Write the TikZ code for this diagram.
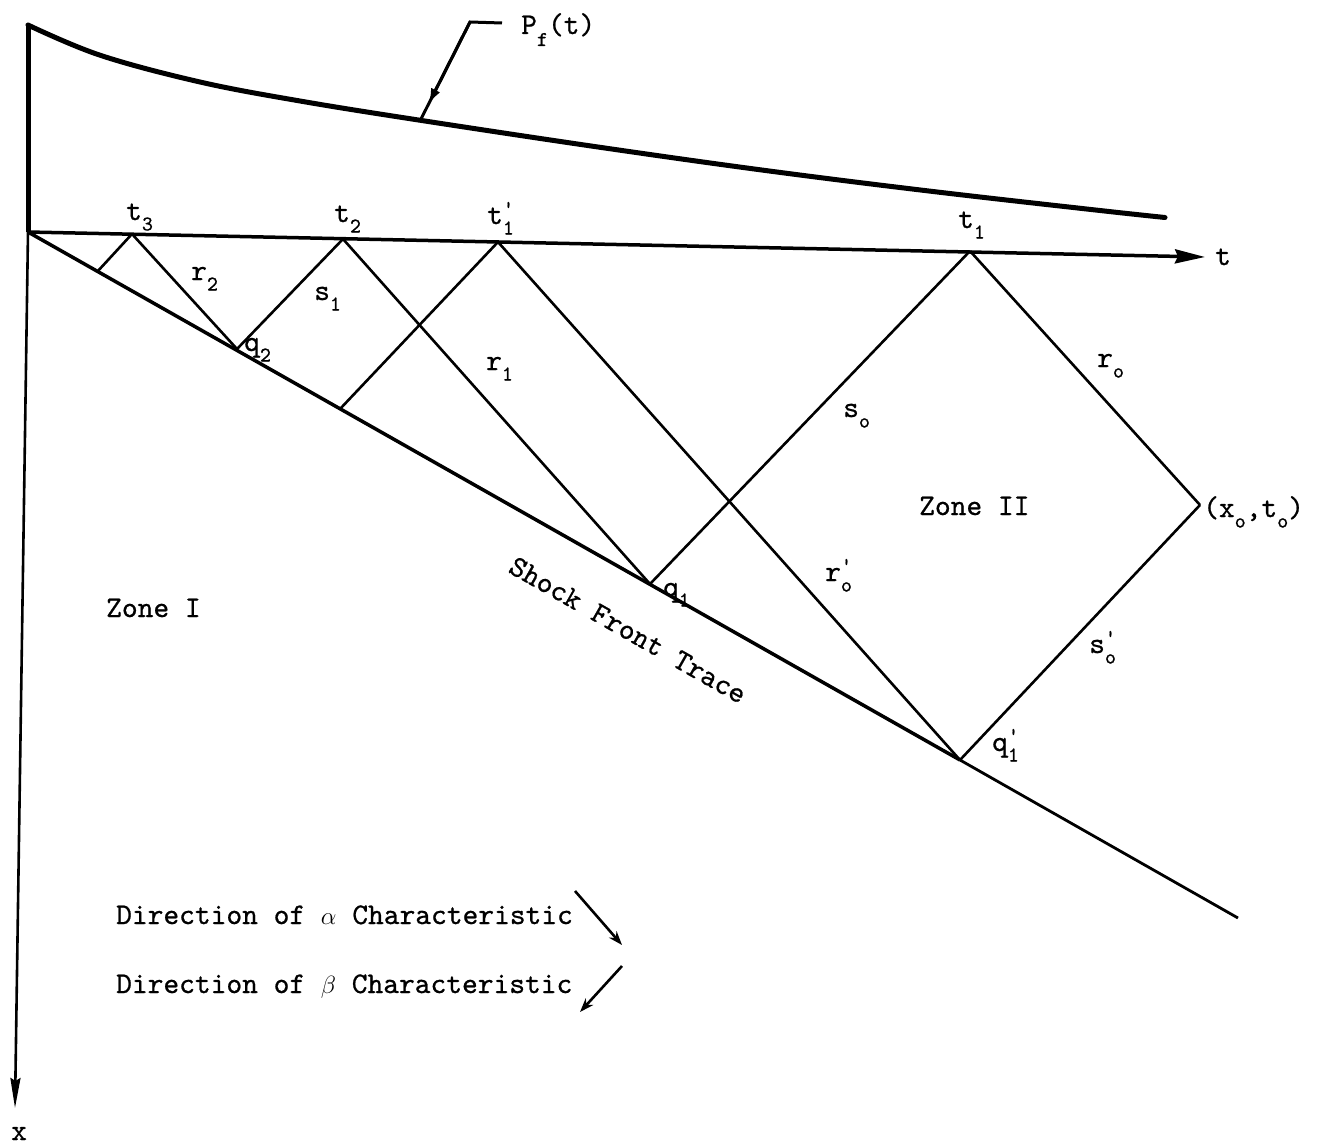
\documentclass[tikz,border=0pt]{standalone}
\usepackage{fontspec}
\newfontfamily\tw[FakeBold=0.7]{lmmono10-regular.otf}
\usetikzlibrary{arrows.meta,calc}
\newcommand\subfnt{\fontsize{21}{21}\selectfont}
\newcommand\lsub[2]{#1\raisebox{-0.35em}{\subfnt #2}}
\newcommand\lsubp[2]{#1\rlap{\raisebox{-0.35em}{\subfnt #2}}\raisebox{0.3em}{\subfnt '}}
\begin{document}
\begin{tikzpicture}[x=1pt,y=-1pt,
  every node/.style={font=\tw\fontsize{30}{30}\selectfont, inner sep=0pt},
  lbl/.style={anchor=base west},
  charline/.style={line width=2.6pt},
  axisline/.style={line width=3.5pt},
  shockline/.style={line width=3.5pt},
  curveline/.style={line width=5pt, line cap=round},
  smallarrow/.style={line width=2.6pt, -{Stealth[length=14pt,width=10pt]}}]
\path[fill=white] (0,0) rectangle (1317,1145);
\useasboundingbox (0,0) rectangle (1317,1145);

% points
\coordinate (Top) at (28,25);
\coordinate (O) at (28,232);
\coordinate (Xe) at (15,1108);
\coordinate (Te) at (1205,257);
\coordinate (T3) at (132,234);
\coordinate (T2) at (343,239);
\coordinate (T1p) at (498,242);
\coordinate (T1) at (970,251);
\coordinate (A) at (97,272);
\coordinate (Q2) at (237,349);
\coordinate (B) at (340,409);
\coordinate (Q1) at (650,584);
\coordinate (Q1p) at (960,760);
\coordinate (Se) at (1238,918);
\coordinate (X0) at (1200,505);
\coordinate (L1) at (502,23);
\coordinate (L2) at (470,22);
\coordinate (L3) at (421,119);
\coordinate (Lm) at ($(L2)!0.85!(L3)$);
\coordinate (Aa) at (575,891);
\coordinate (Ab) at (622,945);
\coordinate (Ba) at (622,966);
\coordinate (Bb) at (580,1012);

% pressure curve
\draw[curveline] plot[smooth, tension=0.6] coordinates {(28,25) (100,55.2) (200,82) (300,101) (421,120.4) (600,147.3) (767,170.7) (933,191.5) (1100,210.5) (1165,217.5)};
% axes
\draw[line width=5pt] (Top) -- (O);
\draw[axisline, -{Stealth[length=30pt,width=14pt,inset=3pt]}] (O) -- (Te);
\draw[charline, -{Stealth[length=30pt,width=10pt,inset=3pt]}] (O) -- (Xe);
% leader
\draw[line width=3pt] (L1) -- (L2) -- (L3);
\draw[line width=3pt, -{Latex[length=16pt,width=10pt]}] (L2) -- (Lm);
% shock front
\draw[shockline] (O) -- (Q1p);
\draw[line width=2.8pt] (Q1p) -- (Se);
% characteristics
\draw[charline] (T3) -- (A);
\draw[charline] (T3) -- (Q2);
\draw[charline] (Q2) -- (T2);
\draw[charline] (T2) -- (Q1);
\draw[charline] (B) -- (T1p);
\draw[charline] (T1p) -- (Q1p);
\draw[charline] (Q1) -- (T1);
\draw[charline] (T1) -- (X0);
\draw[charline] (X0) -- (Q1p);
% direction arrows
\draw[smallarrow] (Aa) -- (Ab);
\draw[smallarrow] (Ba) -- (Bb);

% labels
\node[lbl] (pf) at (521,34) {P\raisebox{-0.4em}{\subfnt f}(t)};
\node[lbl] (lt3) at (126,220) {\lsub{t}{3}};
\node[lbl] (lt2) at (334,222) {\lsub{t}{2}};
\node[lbl] (lt1p) at (487,224) {\lsubp{t}{1}};
\node[lbl] (lt1) at (958,228) {\lsub{t}{1}};
\node[lbl] (lt) at (1215,265) {t};
\node[lbl] (lr2) at (191,280) {\lsub{r}{2}};
\node[lbl] (ls1) at (314,300) {\lsub{s}{1}};
\node[lbl] (lq2) at (244,351) {\lsub{q}{2}};
\node[lbl] (lr1) at (486,370) {\lsub{r}{1}};
\node[lbl] (lso) at (843,417) {\lsub{s}{o}};
\node[lbl] (lro) at (1097,367) {\lsub{r}{o}};
\node[lbl] (lrop) at (825,581) {\lsubp{r}{o}};
\node[lbl] (lq1) at (663,596) {\lsub{q}{1}};
\node[lbl] (lq1p) at (992,751) {\lsubp{q}{1}};
\node[lbl] (lsop) at (1089,653) {\lsubp{s}{o}};
\node[lbl] (lx0) at (1203,517) {(\lsub{x}{o},\lsub{t}{o})};
\node[lbl] (z2) at (919,515) {Zone II};
\node[lbl] (z1) at (106,617) {Zone I};
\node[rotate=-29.7] (sft) at (628,630) {Shock Front Trace};
\node[lbl] (lx) at (11,1140) {x};
\node[lbl] (da) at (116,924) {Direction of $\alpha$ Characteristic};
\node[lbl] (db) at (116,993) {Direction of $\beta$ Characteristic};
\end{tikzpicture}
\end{document}
